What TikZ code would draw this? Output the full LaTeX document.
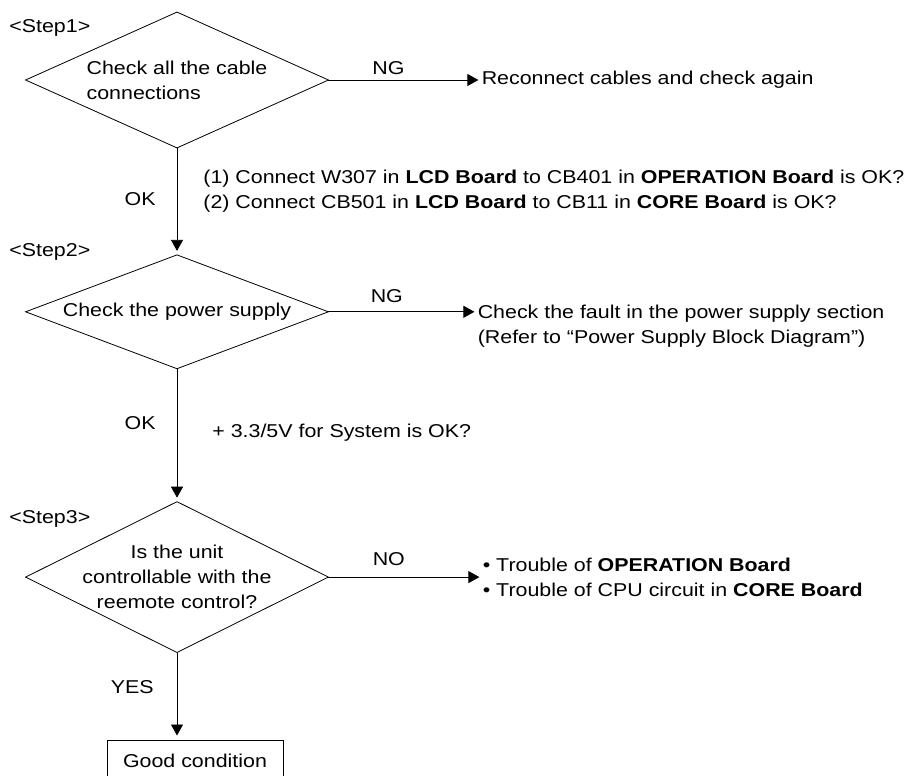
\documentclass[tikz,border=0pt]{standalone}
\usepackage{fontspec}
\setmainfont[FakeStretch=1.15]{Liberation Sans}
\usetikzlibrary{positioning,arrows.meta}

\tikzset{
  decision/.style={minimum width=302pt, minimum height=#1, inner sep=0pt, align=center},
  result/.style={align=left, inner sep=3pt},
  arr/.style={-{Triangle[length=11pt,width=12pt]}},
  steplabel/.style={anchor=west, inner sep=0pt}
}

\begin{document}
\begin{tikzpicture}[x=1pt, y=-1pt, line width=0.8pt, inner sep=2pt,
                    font=\fontsize{18.6pt}{25pt}\selectfont]
  \useasboundingbox (0,0) rectangle (908,776);

  \node (chk1) [decision=135pt, align=left] at (177,80) {Check all the cable\\connections};
  \node (chk2) [decision=113pt, below=107pt of chk1] {Check the power supply};
  \node (chk3) [decision=150pt, below=133pt of chk2] {Is the unit\\controllable with the\\reemote control?};
  \node (good) [draw, minimum width=176pt, minimum height=42pt,
                below=87pt of chk3, xshift=18pt] {Good condition};

  \foreach \n in {chk1,chk2,chk3}
    \draw (\n.north) -- (\n.east) -- (\n.south) -- (\n.west) -- cycle;

  \node (step1) [steplabel] at (9,28) {\textless Step1\textgreater};
  \node (step2) [steplabel] at (9,252) {\textless Step2\textgreater};
  \node (step3) [steplabel] at (9,519) {\textless Step3\textgreater};

  \node (fix1) [result, right=150pt of chk1] {Reconnect cables and check again};
  \node (fix2) [result, right=146pt of chk2, yshift=-14pt]
    {Check the fault in the power supply section\\(Refer to “Power Supply Block Diagram”)};
  \node (fix3) [result, right=151pt of chk3]
    {\textbullet{} Trouble of \textbf{OPERATION Board}\\
     \textbullet{} Trouble of CPU circuit in \textbf{CORE Board}};

  \path[arr] (chk1) edge node [above=3pt, pos=0.4] {NG} (fix1)
             (chk2.east) edge node [above=7pt, pos=0.4] {NG} (chk2.east -| fix2.west)
             (chk3) edge node [above=9pt, pos=0.4] {NO} (fix3);

  \path[arr, shorten >=4pt]
    (chk1) edge node [left=19pt, pos=0.48] {OK}
                node [right=24pt, pos=0.4, align=left]
                  {(1) Connect W307 in \textbf{LCD Board} to CB401 in \textbf{OPERATION Board} is OK?\\
                   (2) Connect CB501 in \textbf{LCD Board} to CB11 in \textbf{CORE Board} is OK?} (chk2)
    (chk2) edge node [left=19pt, pos=0.41] {OK}
                node [right=33pt, pos=0.48] {+ 3.3/5V for System is OK?} (chk3)
    (chk3.south) edge node [left=21pt, pos=0.4] {YES} (chk3.south |- good.north);
\end{tikzpicture}
\end{document}
